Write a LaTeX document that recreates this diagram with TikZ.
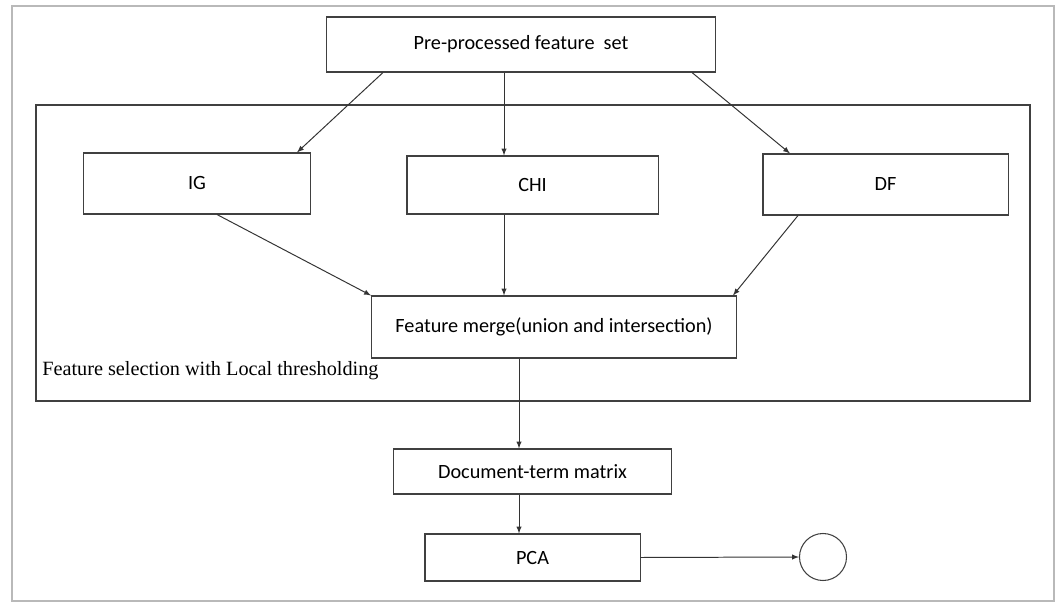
\documentclass[tikz,border=0pt]{standalone}
\usepackage{fontspec}
\setmainfont{Carlito}
\newfontfamily\seriffont{Liberation Serif}
\usetikzlibrary{arrows, calc}

\begin{document}
\begin{tikzpicture}[x=0.025cm, y=-0.025cm,
    box/.style={draw=black!75, line width=0.75pt, inner sep=0pt, font=\fontsize{14.4}{17}\selectfont},
    arr/.style={->, >=latex, draw=black!80, line width=0.7pt}]
    \useasboundingbox (0,0) rectangle (1058,603);
    \draw[gray!55, line width=1.5pt] (12,6) rectangle (1054,601);

    \node[box, minimum width=9.7cm, minimum height=1.375cm] (pre) at (521,44.5) {Pre-processed feature\ \ set};

    \draw[draw=black!75, line width=0.75pt] (36,105) rectangle (1030,401);
    \node[anchor=west, inner sep=0pt, font=\seriffont\fontsize{14.4}{17}\selectfont] (sellabel) at (42,371) {Feature selection with Local thresholding};

    \node[box, minimum width=5.65cm, minimum height=1.525cm] (ig) at (197,183.5) {IG};
    \node[box, minimum width=6.275cm, minimum height=1.45cm] (chi) at (532.5,185) {CHI};
    \node[box, minimum width=6.125cm, minimum height=1.525cm] (df) at (885.5,184.5) {DF};
    \node[box, minimum width=9.1cm, minimum height=1.55cm] (merge) at (554,327) {Feature merge(union and intersection)};
    \node[box, minimum width=6.925cm, minimum height=1.125cm] (dtm) at (532.5,471.5) {Document-term matrix};
    \node[box, minimum width=5.375cm, minimum height=1.175cm] (pca) at (532.5,557.5) {PCA};
    \node[draw=black!75, line width=0.75pt, circle, minimum size=1.175cm, inner sep=0pt] (end) at (823,557) {};

    \draw[arr] ($(pre.south)+(-138,0)$) -- ($(ig.north)+(100,0)$);
    \draw[arr] ($(pre.south)+(-17,0)$) -- ($(chi.north)+(-28.5,0)$);
    \draw[arr] ($(pre.south)+(171,0)$) -- ($(df.north)+(-95.5,0)$);
    \draw[arr] ($(ig.south)+(20,0)$) -- ($(merge.north)+(-183,0)$);
    \draw[arr] ($(chi.south)+(-28.5,0)$) -- ($(merge.north)+(-50,0)$);
    \draw[arr] ($(df.south)+(-87.5,0)$) -- ($(merge.north)+(179,0)$);
    \draw[arr] ($(merge.south)+(-35,0)$) -- ($(dtm.north)+(-13.5,0)$);
    \draw[arr] ($(dtm.south)+(-13.5,0)$) -- ($(pca.north)+(-13.5,0)$);
    \draw[arr] (pca.east) -- (end.west);
\end{tikzpicture}
\end{document}
